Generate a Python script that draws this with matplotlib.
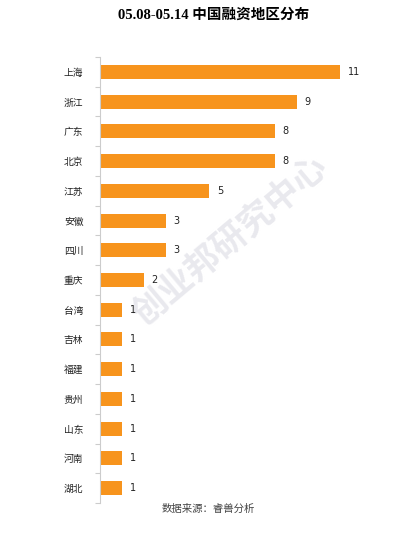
import matplotlib
matplotlib.use("Agg")
import matplotlib.pyplot as plt
import numpy as np

plt.rcParams['font.family'] = ['Noto Sans CJK SC', 'DejaVu Sans']

regions = ["上海", "浙江", "广东", "北京", "江苏", "安徽", "四川", "重庆",
           "台湾", "吉林", "福建", "贵州", "山东", "河南", "湖北"]
counts = [11, 9, 8, 8, 5, 3, 3, 2, 1, 1, 1, 1, 1, 1, 1]
title = "05.08-05.14 中国融资地区分布"
source = "数据来源：睿兽分析"
watermark = "创业邦研究中心"

fig = plt.figure(figsize=(4.19, 5.35), dpi=100)
ax = fig.add_axes([0.2387, 0.0598, 0.73, 0.8337])

y = np.arange(len(regions))
ax.barh(y, counts, height=0.47, color="#F7941D", zorder=2)
ax.set_ylim(len(regions) - 0.5, -0.5)
ax.set_xlim(0, 14)

for yi, v in zip(y, counts):
    ax.text(v + 0.35, yi, str(v), va="center", ha="left", fontsize=7,
            family=['DejaVu Sans'], color="#222222", zorder=3)

ax.text(0.55, 0.55, watermark, ha="center", va="center", fontsize=25,
        fontweight="bold", rotation=40, color="#e9e9ee", zorder=0,
        transform=fig.transFigure)

ax.set_yticks(y)
ax.set_yticklabels(regions, fontsize=7, color="#222222")
ax.tick_params(axis='y', which='major', length=0, pad=12)
ax.set_yticks(np.arange(-0.5, len(regions), 1), minor=True)
ax.tick_params(axis='y', which='minor', length=3.5, color="#cccccc", width=0.8)
ax.set_xticks([])
for s in ["top", "right", "bottom"]:
    ax.spines[s].set_visible(False)
ax.spines["left"].set_color("#cccccc")
ax.spines["left"].set_linewidth(0.8)

fig.text(0.51, 0.972, title, ha="center", va="center", fontsize=10.5,
         fontweight="bold", family=['Liberation Serif', 'Noto Sans CJK SC'])
fig.text(0.497, 0.049, source, ha="center", va="center", fontsize=7.5,
         color="#444444")

fig.savefig("out.png", dpi=100)
